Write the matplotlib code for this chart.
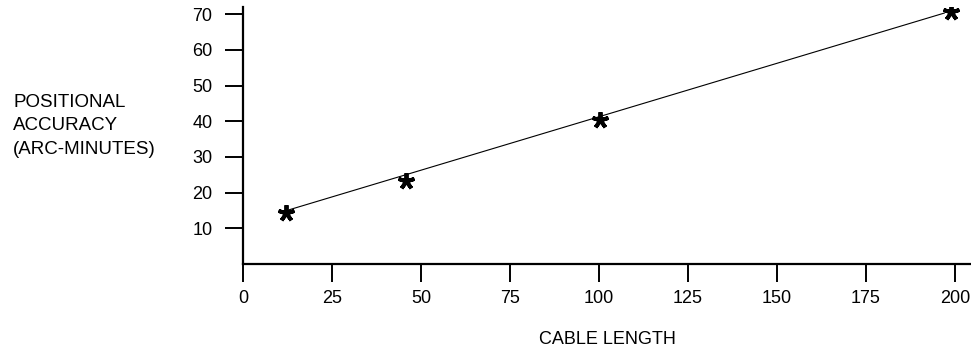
import matplotlib
matplotlib.use("Agg")
import matplotlib.pyplot as plt

plt.rcParams['font.family'] = ['Liberation Sans', 'DejaVu Sans']

# Data
cable_length = [12.0, 45.7, 100.3, 199.0]
accuracy = [14.4, 23.3, 40.4, 70.6]
fit_x = [13.0, 197.0]
fit_y = [15.2, 70.3]
x_ticks = [0, 25, 50, 75, 100, 125, 150, 175, 200]
y_ticks = [10, 20, 30, 40, 50, 60, 70]

fig = plt.figure(figsize=(9.71, 3.55), dpi=100)
W, H = 971, 355
ax = fig.add_axes([243 / W, (H - 264) / H, (971 - 243) / W, (264 - 7) / H])

ax.plot(fit_x, fit_y, color='black', linewidth=0.8)
ax.plot(cable_length, accuracy, linestyle='none', marker=(5, 2, 0),
        markersize=12, markeredgewidth=2.8, color='black')

ax.set_xlim(0, 204.5)
ax.set_ylim(0, 72)
ax.set_xticks(x_ticks)
ax.set_yticks(y_ticks)
ax.tick_params(axis='both', direction='out', length=13, width=1.4,
               labelsize=13, colors='black')
ax.tick_params(axis='y', pad=9)
ax.tick_params(axis='x', pad=6)
for s in ['top', 'right']:
    ax.spines[s].set_visible(False)
for s in ['left', 'bottom']:
    ax.spines[s].set_linewidth(1.6)

ax.set_xlabel('CABLE LENGTH', fontsize=13, labelpad=17)
fig.text(13 / W, 1 - 126 / H, 'POSITIONAL\nACCURACY\n(ARC-MINUTES)',
         fontsize=13.5, ha='left', va='center', linespacing=1.5)

fig.savefig('out.png', dpi=100)
